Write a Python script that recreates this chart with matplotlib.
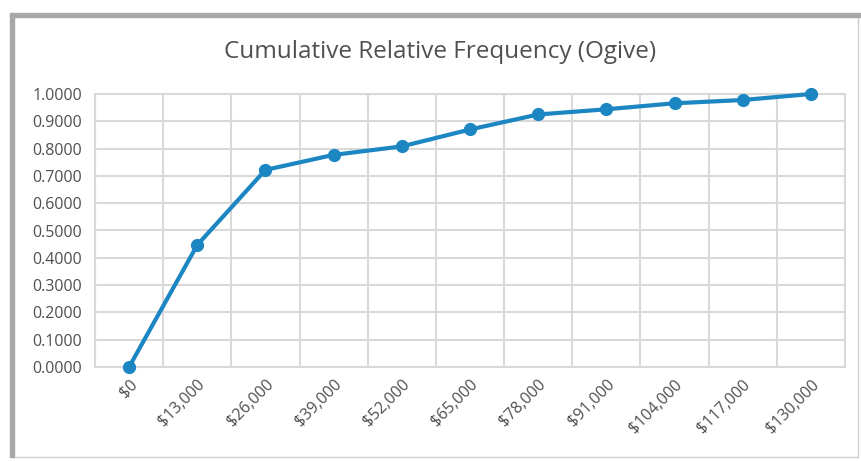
# Cumulative relative frequency (ogive) chart, Excel-like style
import matplotlib.pyplot as plt
from matplotlib.patches import Rectangle

# data
labels = ['$0', '$13,000', '$26,000', '$39,000', '$52,000', '$65,000',
          '$78,000', '$91,000', '$104,000', '$117,000', '$130,000']
cum_rel_freq = [0.0, 0.447, 0.722, 0.777, 0.808, 0.870,
                0.925, 0.944, 0.966, 0.978, 1.0]
y_ticks = [0.0, 0.1, 0.2, 0.3, 0.4, 0.5, 0.6, 0.7, 0.8, 0.9, 1.0]

plt.rcParams['font.family'] = ['Open Sans', 'DejaVu Sans']

fig = plt.figure(figsize=(8.62, 4.61), dpi=100)
ax = fig.add_axes([95 / 862, 94 / 461, 750 / 862, 273 / 461])

x = list(range(len(labels)))
ax.plot(x, cum_rel_freq, color='#1c86c2', linewidth=3, marker='o',
        markersize=8.5, zorder=3, clip_on=False)

ax.set_xlim(-0.5, len(labels) - 0.5)
ax.set_ylim(0, 1.0)
ax.set_yticks(y_ticks)
ax.set_yticklabels([f'{v:.4f}' for v in y_ticks])
ax.set_xticks(x)
ax.set_xticklabels(labels, rotation=45, ha='right', va='top',
                   rotation_mode='anchor')
ax.set_xticks([i - 0.5 for i in range(len(labels) + 1)], minor=True)

ax.grid(False)
ax.grid(True, which='minor', axis='x', color='#d9d9d9', linewidth=1.5)
ax.grid(True, which='major', axis='y', color='#d9d9d9', linewidth=1.5)
ax.set_axisbelow(True)
for sp in ax.spines.values():
    sp.set_color('#d9d9d9')
    sp.set_linewidth(1.5)

ax.tick_params(which='both', length=0, colors='#505050', labelsize=11.5)
ax.tick_params(axis='x', pad=7)
ax.tick_params(axis='y', pad=9)

fig.text(440 / 862, 1 - 52 / 461, 'Cumulative Relative Frequency (Ogive)',
         ha='center', va='center', fontsize=17.5, color='#505050')

# outer frame of the screenshot
fig.patches.append(Rectangle((12 / 862, 4 / 461), 846 / 862, 443 / 461,
                             transform=fig.transFigure, fill=False,
                             edgecolor='#d0d0d0', linewidth=1))
fig.patches.append(Rectangle((10 / 862, 4 / 461), 4 / 862, 443 / 461,
                             transform=fig.transFigure, color='#a8a8a8'))
fig.patches.append(Rectangle((10 / 862, 444 / 461), 852 / 862, 4 / 461,
                             transform=fig.transFigure, color='#a8a8a8'))

fig.savefig('out.png', dpi=100)
